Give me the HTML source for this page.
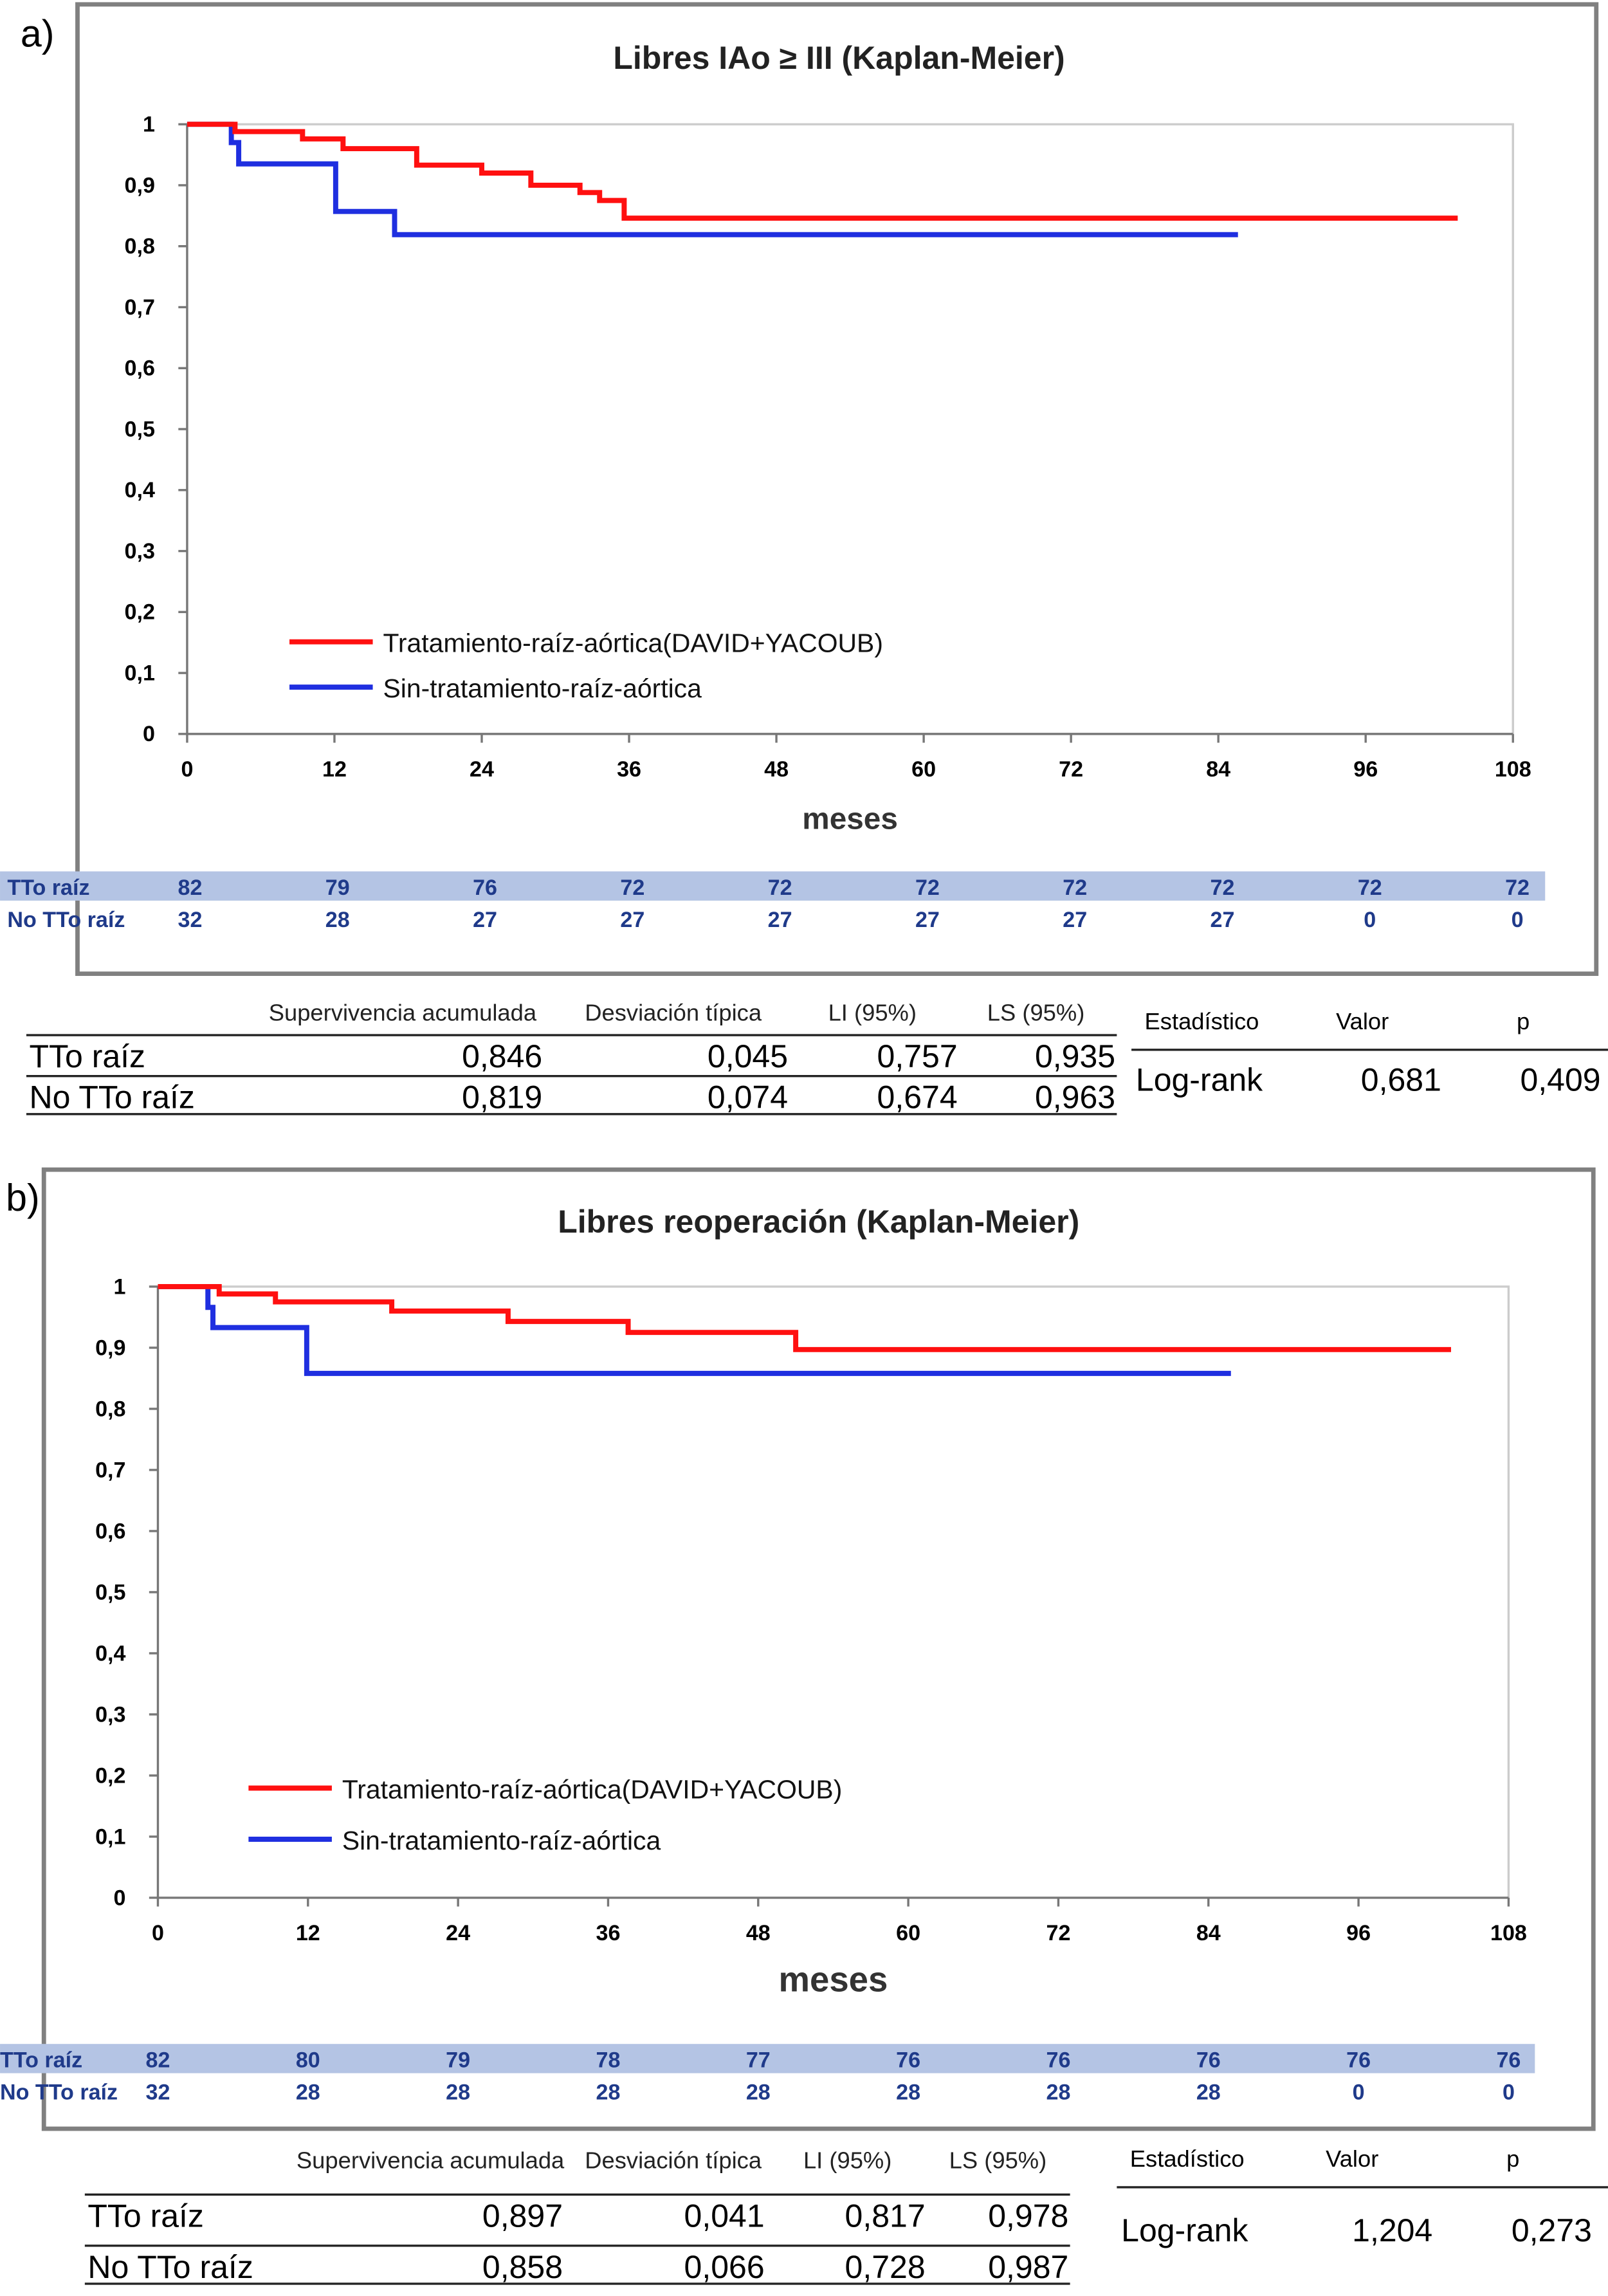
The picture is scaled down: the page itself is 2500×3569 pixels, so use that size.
<!DOCTYPE html>
<html><head><meta charset="utf-8"><style>
html,body{margin:0;padding:0;background:#fff;}
svg{display:block;font-family:"Liberation Sans",sans-serif;}
</style></head><body>
<svg id="fig" width="2500" height="3569" viewBox="0 0 1100 1570.4" xmlns="http://www.w3.org/2000/svg"></svg>
<script>
// ---- data ----
const xTicks = [0,12,24,36,48,60,72,84,96,108];
const yTicks = [0,0.1,0.2,0.3,0.4,0.5,0.6,0.7,0.8,0.9,1];
const yTickLabels = ["0","0,1","0,2","0,3","0,4","0,5","0,6","0,7","0,8","0,9","1"];
// panel a
const aRedTimes = [0,3.9,9.4,12.7,18.7,24,28,32,33.6,35.6,103.5];
const aRedSurv  = [1,0.988,0.976,0.96,0.933,0.92,0.9,0.888,0.875,0.846,0.846];
const aBlueTimes = [0,3.6,4.2,12.1,16.9,85.6];
const aBlueSurv  = [1,0.97,0.935,0.857,0.819,0.819];
const aRiskTTo   = ["82","79","76","72","72","72","72","72","72","72"];
const aRiskNoTTo = ["32","28","27","27","27","27","27","27","0","0"];
const aStatsTTo   = ["0,846","0,045","0,757","0,935"];
const aStatsNoTTo = ["0,819","0,074","0,674","0,963"];
const aLogrank = ["0,681","0,409"];
// panel b
const bRedTimes = [0,4.9,9.4,18.7,28,37.6,51,103.4];
const bRedSurv  = [1,0.988,0.975,0.96,0.943,0.925,0.897,0.897];
const bBlueTimes = [0,4,4.4,11.9,85.8];
const bBlueSurv  = [1,0.966,0.933,0.858,0.858];
const bRiskTTo   = ["82","80","79","78","77","76","76","76","76","76"];
const bRiskNoTTo = ["32","28","28","28","28","28","28","28","0","0"];
const bStatsTTo   = ["0,897","0,041","0,817","0,978"];
const bStatsNoTTo = ["0,858","0,066","0,728","0,987"];
const bLogrank = ["1,204","0,273"];

const NS="http://www.w3.org/2000/svg";
const svg=document.getElementById('fig');
function el(tag,attrs,parent,text){const e=document.createElementNS(NS,tag);for(const k in attrs)e.setAttribute(k,attrs[k]);if(text!==undefined)e.textContent=text;(parent||svg).appendChild(e);return e;}

function panel(P){
  const g=el('g',{});
  
  
  const fr=el('rect',{x:P.frame[0],y:P.frame[1],width:P.frame[2],height:P.frame[3],fill:'none',stroke:'#808080','stroke-width':3},g);
  
  const lab=el('text',{x:P.labX,y:P.labY,'font-size':26},g,P.id+')');
  
  const t=el('text',{x:P.titleX,y:P.titleY,'font-size':22,'font-weight':'bold','text-anchor':'middle',fill:'#222'},g,P.title);
  
  const X=m=>P.x0+(P.x1-P.x0)*m/108, Y=v=>P.y0+(P.y1-P.y0)*(1-v);
  const pa=el('polyline',{points:`${P.x1},${P.y1} ${P.x1},${P.y0} ${P.x0},${P.y0}`,fill:'none',stroke:'#ccc','stroke-width':1.5},g);
  
  const ax=el('path',{d:`M${P.x0},${P.y0} V${P.y1} H${P.x1}`,fill:'none',stroke:'#777','stroke-width':1.5},g);
  
  yTicks.forEach((v,i)=>{
    el('line',{x1:P.x0-6,x2:P.x0,y1:Y(v),y2:Y(v),stroke:'#777','stroke-width':1.5},g);
    const tl=el('text',{x:P.x0-22,y:Y(v)+5,'font-size':15,'font-weight':'bold','text-anchor':'end'},g,yTickLabels[i]);
    
  });
  xTicks.forEach(m=>{
    el('line',{x1:X(m),x2:X(m),y1:P.y1,y2:P.y1+6,stroke:'#777','stroke-width':1.5},g);
    const tl=el('text',{x:X(m),y:P.y1+29,'font-size':15,'font-weight':'bold','text-anchor':'middle'},g,String(m));
    
  });
  const xt=el('text',{x:(P.x0+P.x1)/2,y:P.y1+P.xtDy,'font-size':P.xtSize,'font-weight':'bold','text-anchor':'middle',fill:'#333'},g,'meses');
  
  function curve(ts,ss,color,name){
    let d=`M${X(ts[0])},${Y(ss[0])}`;
    for(let i=1;i<ts.length;i++){d+=` H${X(ts[i])} V${Y(ss[i])}`;}
    const p=el('path',{d,fill:'none',stroke:color,'stroke-width':3.5},g);
    
  }
  curve(P.blueT,P.blueS,'#1f2fe0',P.id+'-sin-tratamiento-curve');
  curve(P.redT,P.redS,'#ff1010',P.id+'-tratamiento-curve');
  [[ '#ff1010','Tratamiento-raíz-aórtica(DAVID+YACOUB)',P.legY1],['#1f2fe0','Sin-tratamiento-raíz-aórtica',P.legY2]].forEach(([c,txt,y],i)=>{
    const lg=el('g',{},g);
    el('line',{x1:P.legX,x2:P.legX+57,y1:y,y2:y,stroke:c,'stroke-width':3.5},lg);
    el('text',{x:P.legX+64,y:y+7,'font-size':18,fill:'#111'},lg,txt);
  });
  // risk table
  const band=el('rect',{x:0,y:P.riskY-10,width:P.bandW,height:20,fill:'#b4c4e4'},g);
  
  [['TTo raíz',P.riskTTo,P.riskY],['No TTo raíz',P.riskNo,P.riskY+22]].forEach(([lbl,arr,y])=>{
    const r=el('g',{},g);
    el('text',{x:P.riskLabX,y:y+6,'font-size':15,'font-weight':'bold',fill:'#1f3a8a'},r,lbl);
    arr.forEach((v,i)=>el('text',{x:P.riskXs0+(P.riskXs1-P.riskXs0)*i/9,y:y+6,'font-size':15,'font-weight':'bold',fill:'#1f3a8a','text-anchor':'middle'},r,v));
  });
  // stats table
  const st=el('g',{},g);
  const S=P.st;
  S.hdr.forEach((h,i)=>el('text',{x:S.hx[i],y:S.hy,'font-size':16,'text-anchor':'end',fill:'#222'},st,h));
  el('line',{x1:S.l0,x2:S.l1,y1:S.r1-14,y2:S.r1-14,stroke:'#222','stroke-width':1.5},st);
  el('line',{x1:S.l0,x2:S.l1,y1:S.r2-14,y2:S.r2-14,stroke:'#222','stroke-width':1.5},st);
  el('line',{x1:S.l0,x2:S.l1,y1:S.r2+12,y2:S.r2+12,stroke:'#222','stroke-width':1.5},st);
  [['TTo raíz',P.stTTo,S.r1],['No TTo raíz',P.stNo,S.r2]].forEach(([lbl,arr,y])=>{
    el('text',{x:S.l0+2,y:y+8,'font-size':22},st,lbl);
    arr.forEach((v,i)=>el('text',{x:S.vx[i],y:y+8,'font-size':22,'text-anchor':'end'},st,v));
  });
  const lr=el('g',{},g);
  el('text',{x:S.lrx[0],y:S.lrHy,'font-size':16},lr,'Estadístico');
  el('text',{x:S.lrx[1],y:S.lrHy,'font-size':16,'text-anchor':'middle'},lr,'Valor');
  el('text',{x:S.lrx[2],y:S.lrHy,'font-size':16,'text-anchor':'middle'},lr,'p');
  el('line',{x1:S.lrl0,x2:1100,y1:S.lrLine,y2:S.lrLine,stroke:'#222','stroke-width':1.5},lr);
  el('text',{x:S.lrx[0]-6,y:S.lrY,'font-size':22},lr,'Log-rank');
  el('text',{x:S.lrv[0],y:S.lrY,'font-size':22,'text-anchor':'end'},lr,P.lr[0]);
  el('text',{x:S.lrv[1],y:S.lrY,'font-size':22,'text-anchor':'end'},lr,P.lr[1]);
}
const hdr=['Supervivencia acumulada','Desviación típica','LI (95%)','LS (95%)'];
panel({id:'a',frame:[53,3,1039,663],labX:14,labY:32,title:'Libres IAo ≥ III (Kaplan-Meier)',titleX:574,titleY:47,
  x0:128,x1:1035,y0:85,y1:502,xtDy:65,xtSize:21,
  redT:aRedTimes,redS:aRedSurv,blueT:aBlueTimes,blueS:aBlueSurv,
  legX:198,legY1:439,legY2:470,
  riskY:606,bandW:1057,riskLabX:5,riskXs0:130,riskXs1:1038,riskTTo:aRiskTTo,riskNo:aRiskNoTTo,
  stTTo:aStatsTTo,stNo:aStatsNoTTo,lr:aLogrank,
  st:{hdr,hx:[367,521,627,742],hy:698,l0:18,l1:764,r1:722,r2:750,vx:[371,539,655,763],
      lrx:[783,932,1042],lrHy:704,lrl0:774,lrLine:718,lrY:746,lrv:[986,1095]}});
panel({id:'b',frame:[30,800,1060,656],labX:4,labY:828,title:'Libres reoperación (Kaplan-Meier)',titleX:560,titleY:843,
  x0:108,x1:1032,y0:880,y1:1298,xtDy:64,xtSize:24,
  redT:bRedTimes,redS:bRedSurv,blueT:bBlueTimes,blueS:bBlueSurv,
  legX:170,legY1:1223,legY2:1258,
  riskY:1408,bandW:1050,riskLabX:0,riskXs0:108,riskXs1:1032,riskTTo:bRiskTTo,riskNo:bRiskNoTTo,
  stTTo:bStatsTTo,stNo:bStatsNoTTo,lr:bLogrank,
  st:{hdr,hx:[386,521,610,716],hy:1483,l0:58,l1:732,r1:1515,r2:1550,vx:[385,523,633,731],
      lrx:[773,925,1035],lrHy:1482,lrl0:764,lrLine:1496,lrY:1533,lrv:[980,1089]}});
</script>
</body></html>
